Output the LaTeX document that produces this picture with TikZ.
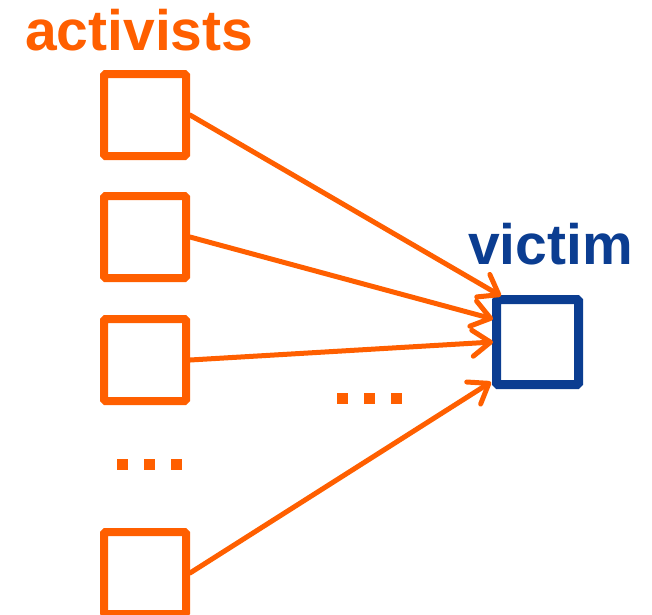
\documentclass[tikz,border=0pt]{standalone}
\usepackage{fontspec}
\setmainfont{Liberation Sans}
\usetikzlibrary{arrows.meta}
\definecolor{org}{HTML}{FF5F00}
\definecolor{nav}{HTML}{0B3D91}
\begin{document}
\begin{tikzpicture}[x=1pt,y=-1pt,
  abox/.style={draw=org,line width=8pt,minimum width=82pt,minimum height=82pt,inner sep=0pt,rounded corners=1.5pt},
  vbox/.style={draw=nav,line width=9pt,minimum width=82pt,minimum height=85pt,inner sep=0pt,rounded corners=1.5pt},
  conn/.style={draw=org,line width=5pt,line cap=round,-{Straight Barb[length=18pt,width=26pt,line width=5pt,line cap=round,line join=round]}},
  dot/.style={fill=org,minimum size=11pt,inner sep=0pt},
  lbl/.style={font=\fontsize{57}{60}\selectfont\bfseries,inner sep=0pt,anchor=base west}]
\useasboundingbox (0,0) rectangle (652,614);
\node[lbl,text=org] (act) at (25,50) {activists};
\node[lbl,text=nav] (vic) at (468,264) {victim};
\node[abox] (a1) at (145,115) {};
\node[abox] (a2) at (145,237) {};
\node[abox] (a3) at (145,360) {};
\node[abox] (a4) at (145,573) {};
\node[vbox] (v) at (537.5,342) {};
\coordinate (t1) at (501,296);
\coordinate (t2) at (493,319);
\coordinate (t3) at (493,342);
\coordinate (t4) at (491,382);
\draw[conn] (a1.east) -- (t1);
\draw[conn] (a2.east) -- (t2);
\draw[conn] (a3.east) -- (t3);
\draw[conn] (a4.east) -- (t4);
\node[dot] (d1) at (122.5,464) {};
\node[dot] (d2) at (149.5,464) {};
\node[dot] (d3) at (176.5,464) {};
\node[dot] (e1) at (342.5,398.5) {};
\node[dot] (e2) at (369.5,398.5) {};
\node[dot] (e3) at (396.5,398.5) {};
\end{tikzpicture}
\end{document}
